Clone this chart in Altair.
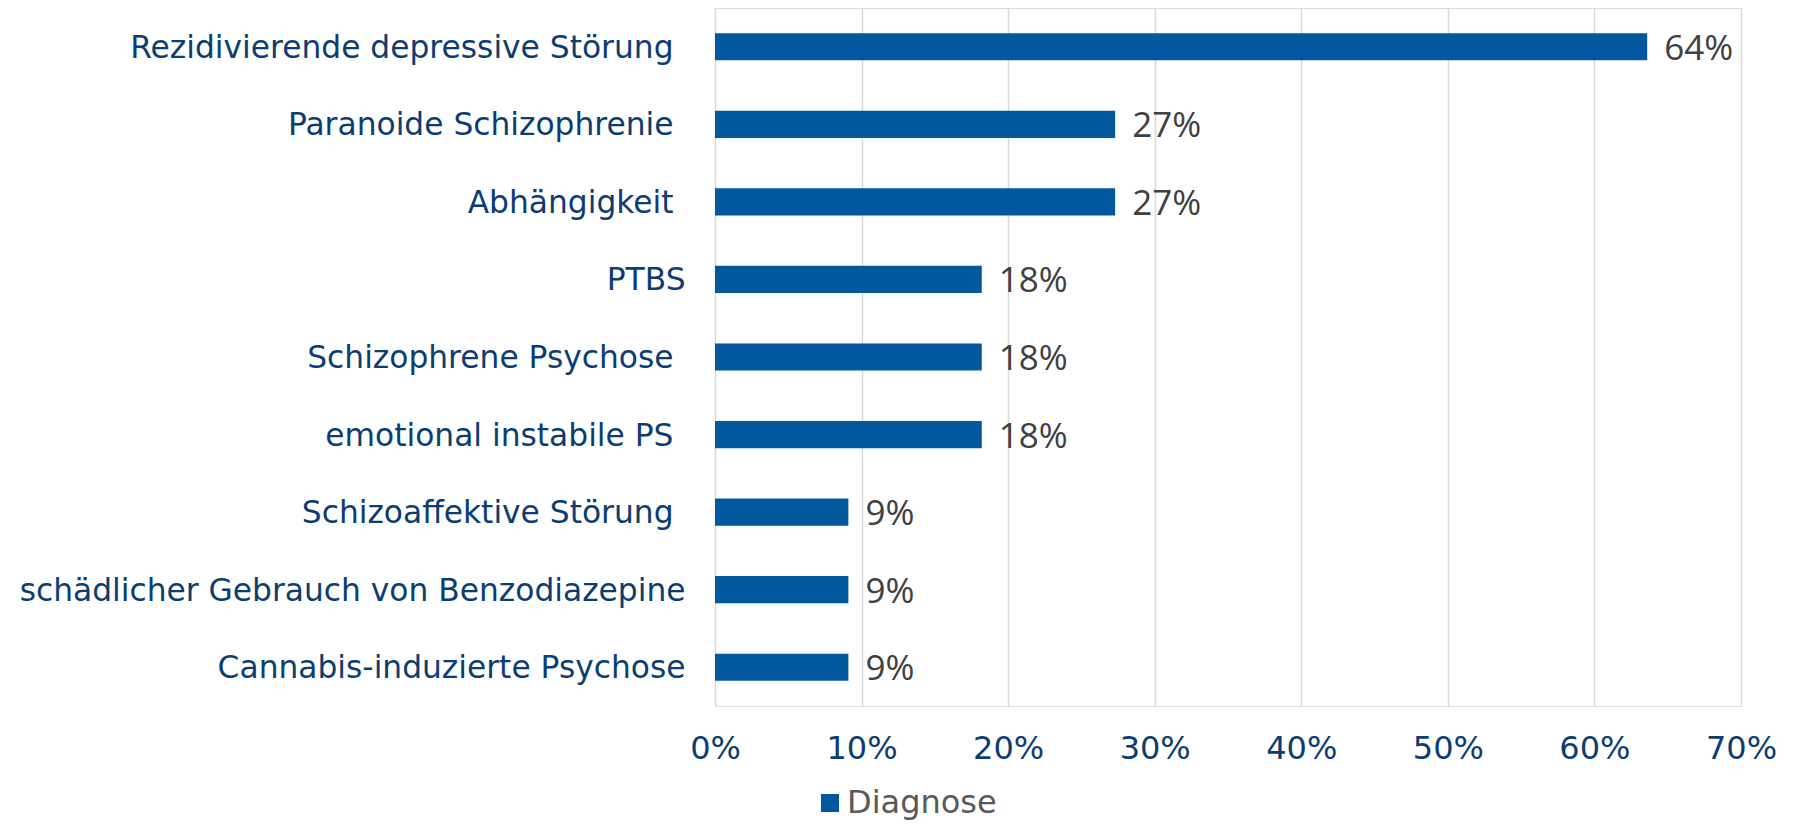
import altair as alt
import pandas as pd

categories = [
    "Rezidivierende depressive Störung",
    "Paranoide Schizophrenie",
    "Abhängigkeit",
    "PTBS",
    "Schizophrene Psychose",
    "emotional instabile PS",
    "Schizoaffektive Störung",
    "schädlicher Gebrauch von Benzodiazepine",
    "Cannabis-induzierte Psychose",
]
# labels that in the original carry a trailing space
trailing_space = [True, True, True, False, True, True, True, False, False]
values = [0.636, 0.273, 0.273, 0.182, 0.182, 0.182, 0.091, 0.091, 0.091]
series = ["Diagnose"] * len(categories)
x_ticks = [0, 0.1, 0.2, 0.3, 0.4, 0.5, 0.6, 0.7]

df = pd.DataFrame({"Kategorie": categories, "Wert": values, "Serie": series})

spaced = [c for c, t in zip(categories, trailing_space) if t]
spaced_js = "[" + ",".join("'" + c + "'" for c in spaced) + "]"

BAR = "#02589E"
TXT = "#0B3D72"

base = alt.Chart(df).encode(
    y=alt.Y(
        "Kategorie:N",
        sort=categories,
        title=None,
        scale=alt.Scale(paddingInner=0.65, paddingOuter=0.325),
        axis=alt.Axis(
            ticks=False,
            domain=False,
            grid=False,
            labelFont="DejaVu Sans",
            labelFontSize=31.3,
            labelColor=TXT,
            labelPadding={"condition": {"test": f"indexof({spaced_js}, datum.value) >= 0", "value": 42}, "value": 30},
            labelLimit=0,
            labelOffset=2,
        ),
    ),
    x=alt.X(
        "Wert:Q",
        title=None,
        scale=alt.Scale(domain=[0, 0.7], nice=False),
        axis=alt.Axis(
            values=x_ticks,
            format=".0%",
            ticks=False,
            domain=False,
            grid=True,
            gridColor="#D9D9D9",
            gridWidth=1.5,
            labelFont="DejaVu Sans",
            labelFontSize=32,
            labelColor=TXT,
            labelPadding=27,
            labelFlush=False,
        ),
    ),
)

bars = base.mark_bar(opacity=1).encode(
    color=alt.Color(
        "Serie:N",
        scale=alt.Scale(domain=["Diagnose"], range=[BAR]),
        legend=alt.Legend(
            title=None,
            orient="none",
            legendX=99,
            legendY=779,
            padding=0,
            symbolType="square",
            symbolSize=324,
            symbolStrokeWidth=0,
            symbolOpacity=1,
            labelFont="DejaVu Sans",
            labelFontSize=32,
            labelColor="#595959",
            labelOffset=1,
        ),
    )
)

labels = base.mark_text(
    align="left",
    baseline="middle",
    dx=17,
    dy=2,
    font="Open Sans",
    fontSize=35,
    color="#404040",
).encode(text=alt.Text("Wert:Q", format=".0%"))

chart = (
    (bars + labels)
    .properties(
        width=1026,
        height=698,
        autosize=alt.AutoSizeParams(type="none"),
        padding={"left": 707, "top": 0, "right": 40, "bottom": 114},
    )
    .configure_view(strokeWidth=0, stroke="transparent")
    .configure(background="white")
)

chart.save("out.html", embed_options={"renderer": "svg", "actions": False})
